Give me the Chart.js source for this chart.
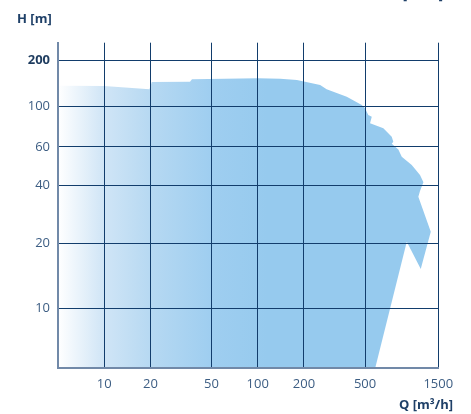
<!DOCTYPE html>
<html>
<head>
<meta charset="utf-8">
<script src="https://cdn.jsdelivr.net/npm/chart.js@4"></script>
<style>
  html, body { margin: 0; padding: 0; background: #ffffff; }
  canvas { display: block; }
</style>
</head>
<body>
<canvas id="c" width="471" height="414"></canvas>
<script>
// ---- data ----
const envelopeQ = [5, 5, 10, 19.7, 20.4, 36.2, 37.3, 100, 140, 180, 255, 281, 380, 476, 500, 525, 553, 539, 658, 746, 764, 746, 824, 867, 1007, 1140, 1200, 1140, 1112, 1340, 1153, 935, 583];
const envelopeH = [5, 137, 136.6, 130, 145, 145.8, 151.1, 153.4, 152.5, 149.5, 138.7, 130, 116.3, 102.6, 98, 90, 88, 81, 76, 68.3, 64.1, 62.5, 58.5, 54.2, 49.7, 44.7, 41.5, 37.5, 35, 23, 15.2, 20.4, 5];
const qTicks = [10, 20, 50, 100, 200, 500, 1500];
const hTicks = [10, 20, 40, 60, 100, 200];
const qLabel = 'Q [m³/h]';
const hLabel = 'H [m]';

const FONT = '"Open Sans", "DejaVu Sans", sans-serif';

// Piecewise logarithmic scale (the printed H axis is not uniformly logarithmic)
class PiecewiseLogScale extends Chart.LogarithmicScale {
  _toDecimal(v) {
    const a = this.options.anchors;
    let i = 1;
    while (i < a.length - 1 && v > a[i][0]) i++;
    const [v0, d0] = a[i - 1], [v1, d1] = a[i];
    return d0 + (d1 - d0) * Math.log(v / v0) / Math.log(v1 / v0);
  }
  _fromDecimal(d) {
    const a = this.options.anchors;
    let i = 1;
    while (i < a.length - 1 && d > a[i][1]) i++;
    const [v0, d0] = a[i - 1], [v1, d1] = a[i];
    return v0 * Math.pow(v1 / v0, (d - d0) / (d1 - d0));
  }
  getPixelForValue(value) {
    if (value === undefined || value === 0) value = this.min;
    if (value === null || isNaN(value)) return NaN;
    return this.getPixelForDecimal(this._toDecimal(value));
  }
  getValueForPixel(pixel) {
    return this._fromDecimal(this.getDecimalForPixel(pixel));
  }
}
PiecewiseLogScale.id = 'piecewiseLog';
PiecewiseLogScale.defaults = Chart.LogarithmicScale.defaults;
Chart.register(PiecewiseLogScale);

const points = envelopeQ.map((q, i) => ({ x: q, y: envelopeH[i] }));

function areaGradient(ctx) {
  const chart = ctx.chart;
  const area = chart.chartArea;
  if (!area) return '#97cbee';
  const g = chart.ctx.createLinearGradient(area.left, 0, area.right, 0);
  g.addColorStop(0, '#ffffff');
  g.addColorStop(0.12, '#d0e5f6');
  g.addColorStop(0.24, '#b7d9f2');
  g.addColorStop(0.40, '#9fcef0');
  g.addColorStop(0.55, '#96caee');
  g.addColorStop(1, '#96caee');
  return g;
}

const textPlugin = {
  id: 'texts',
  afterDraw(chart) {
    const c = chart.ctx;
    c.save();
    c.fillStyle = '#1f4068';
    c.font = 'bold 13px ' + FONT;
    c.textBaseline = 'alphabetic';
    c.textAlign = 'left';
    c.fillText(hLabel, 17, 23);
    c.textAlign = 'right';
    c.fillText(qLabel, 453, 409);
    c.fillText(qLabel.replace('Q ', ''), 443, -1.5);
    c.restore();
  }
};

new Chart(document.getElementById('c'), {
  type: 'line',
  data: {
    datasets: [{
      data: points,
      fill: 'shape',
      backgroundColor: areaGradient,
      borderWidth: 0,
      pointRadius: 0,
      tension: 0
    }]
  },
  options: {
    responsive: false,
    animation: false,
    layout: { padding: { left: 0, top: 42.7, right: 32.7, bottom: 0 } },
    plugins: { legend: { display: false }, tooltip: { enabled: false } },
    scales: {
      x: {
        type: 'logarithmic',
        min: 5,
        max: 1500,
        afterBuildTicks: s => { s.ticks = qTicks.map(v => ({ value: v })); },
        afterFit: s => { s.height = 46.3; },
        grid: { color: '#123d6c', lineWidth: 1, drawTicks: false, z: 1 },
        border: { color: '#7189a8', width: 2, z: 1 },
        ticks: {
          autoSkip: false, maxRotation: 0, padding: 9,
          color: '#3c5d83',
          font: { family: FONT, size: 13 },
          callback: v => String(v)
        }
      },
      y: {
        type: 'piecewiseLog',
        min: 5,
        max: 260,
        anchors: [[5, 0], [10, 0.1828], [20, 0.3828], [40, 0.56], [60, 0.6791], [100, 0.8031], [200, 0.9446], [260, 1]],
        afterBuildTicks: s => { s.ticks = hTicks.map(v => ({ value: v })); },
        afterFit: s => { s.width = 58; },
        grid: { color: '#123d6c', lineWidth: 1, drawTicks: false, z: 1 },
        border: { color: '#7189a8', width: 2, z: 1 },
        ticks: {
          autoSkip: false, padding: 8,
          color: ctx => (ctx.tick && ctx.tick.value === 200) ? '#1d3b5e' : '#3c5d83',
          font: ctx => (ctx.tick && ctx.tick.value === 200)
            ? { family: FONT, size: 13, weight: 'bold' }
            : { family: FONT, size: 13 },
          callback: v => String(v)
        }
      }
    }
  },
  plugins: [textPlugin]
});
</script>
</body>
</html>
